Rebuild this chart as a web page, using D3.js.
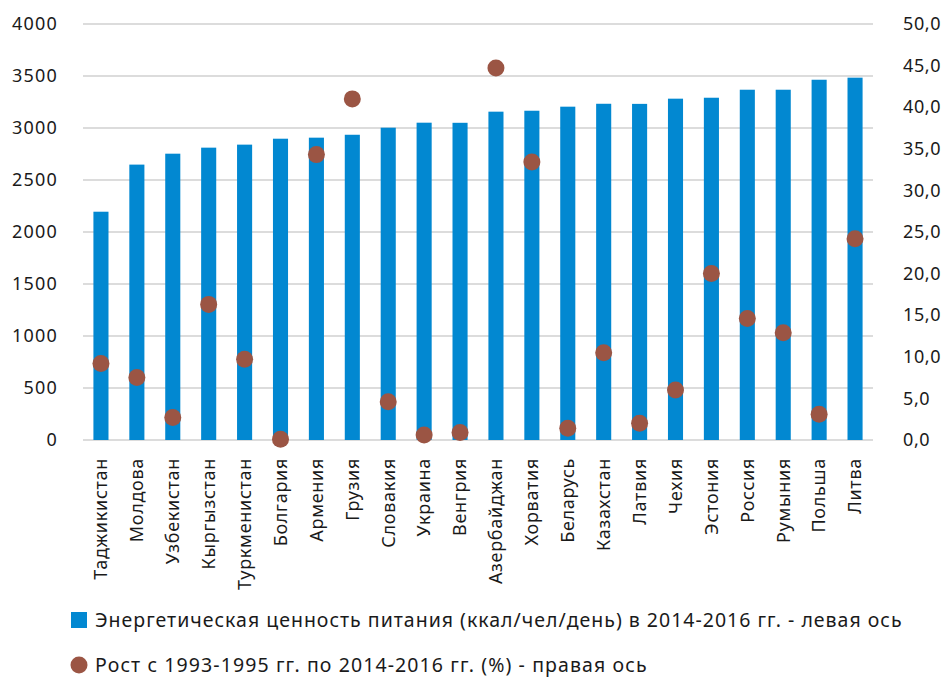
<!DOCTYPE html>
<html lang="ru">
<head>
<meta charset="utf-8">
<script src="https://d3js.org/d3.v7.min.js"></script>
<style>
    body { margin: 0; background: #fff; }
    text { font-family: "Noto Sans", "Open Sans", sans-serif; fill: #1a1a1a; }
</style>
</head>
<body>
<div id="chart"></div>
<script>
    // countries along the x axis
    var countries = ["Таджикистан", "Молдова", "Узбекистан", "Кыргызстан", "Туркменистан", "Болгария",
        "Армения", "Грузия", "Словакия", "Украина", "Венгрия", "Азербайджан", "Хорватия", "Беларусь",
        "Казахстан", "Латвия", "Чехия", "Эстония", "Россия", "Румыния", "Польша", "Литва"];
    // kcal per person per day, 2014-2016 (left axis)
    var kcal = [2195, 2648, 2753, 2811, 2840, 2897, 2907, 2935, 3003, 3051, 3050, 3157,
        3166, 3205, 3233, 3232, 3282, 3291, 3368, 3368, 3464, 3484];
    // growth since 1993-1995, % (right axis)
    var growth = [9.2, 7.5, 2.7, 16.3, 9.7, 0.1, 34.3, 41.0, 4.6, 0.6, 0.9, 44.7,
        33.4, 1.4, 10.5, 2.0, 6.0, 20.0, 14.6, 12.9, 3.1, 24.2];
    var leftTicks = [0, 500, 1000, 1500, 2000, 2500, 3000, 3500, 4000];
    var rightTicks = [0, 5, 10, 15, 20, 25, 30, 35, 40, 45, 50];
    var legendLabels = ["Энергетическая ценность питания (ккал/чел/день) в 2014-2016 гг. - левая ось",
        "Рост с 1993-1995 гг. по 2014-2016 гг. (%) - правая ось"];

    var barColor = "#0288d1", dotColor = "#9b5544";

    var W = 944, H = 677;
    var margin = { top: 24, right: 71, bottom: 237, left: 83 };
    var width = W - margin.left - margin.right,
        height = H - margin.top - margin.bottom;

    var svg = d3.select("#chart").append("svg")
        .attr("width", W).attr("height", H);
    var g = svg.append("g")
        .attr("transform", "translate(" + margin.left + "," + margin.top + ")");

    var x = d3.scaleBand().domain(countries).range([0, width]).paddingInner(0.58).paddingOuter(0.29);
    var yL = d3.scaleLinear().domain([0, 4000]).range([height, 0]);
    var yR = d3.scaleLinear().domain([0, 50]).range([height, 0]);

    // gridlines
    g.selectAll(".grid").data(leftTicks).enter().append("line")
        .attr("x1", 0).attr("x2", width)
        .attr("y1", d => yL(d)).attr("y2", d => yL(d))
        .attr("stroke", "#d0d0d0").attr("stroke-width", 1.5);

    // left axis
    var axL = g.append("g").call(d3.axisLeft(yL).tickValues(leftTicks).tickSize(0).tickPadding(25)
        .tickFormat(d3.format("d")));
    axL.select(".domain").remove();
    axL.selectAll("text").style("font-size", "18px").style("letter-spacing", "1.2px").attr("font-family", null);

    // right axis
    var axR = g.append("g").attr("transform", "translate(" + width + ",0)")
        .call(d3.axisRight(yR).tickValues(rightTicks).tickSize(0).tickPadding(30)
            .tickFormat(d => d3.format(".1f")(d).replace(".", ",")));
    axR.select(".domain").remove();
    axR.selectAll("text").style("font-size", "18px").style("letter-spacing", "0.6px").attr("font-family", null);

    // bars
    g.selectAll(".bar").data(countries).enter().append("rect")
        .attr("x", d => x(d))
        .attr("y", (d, i) => yL(kcal[i]))
        .attr("width", x.bandwidth())
        .attr("height", (d, i) => height - yL(kcal[i]))
        .attr("fill", barColor);

    // dots
    g.selectAll(".dot").data(countries).enter().append("circle")
        .attr("cx", d => x(d) + x.bandwidth() / 2)
        .attr("cy", (d, i) => yR(growth[i]))
        .attr("r", 8.5)
        .attr("fill", dotColor);

    // x labels, rotated
    g.selectAll(".xlab").data(countries).enter().append("text")
        .attr("transform", d => "translate(" + (x(d) + x.bandwidth() / 2) + "," + (height + 18) + ") rotate(-90)")
        .attr("text-anchor", "end")
        .attr("dy", "0.35em")
        .style("font-size", "18px")
        .style("letter-spacing", "0.7px")
        .text(d => d);

    // legend
    var lg = svg.append("g");
    lg.append("rect").attr("x", 71).attr("y", 612).attr("width", 16).attr("height", 16).attr("fill", barColor);
    lg.append("text").attr("x", 95).attr("y", 627).style("font-size", "19.5px").style("letter-spacing", "1px")
        .text(legendLabels[0]);
    lg.append("circle").attr("cx", 79).attr("cy", 665).attr("r", 8.5).attr("fill", dotColor);
    lg.append("text").attr("x", 95).attr("y", 672).style("font-size", "19.5px").style("letter-spacing", "1.1px")
        .text(legendLabels[1]);
</script>
</body>
</html>
